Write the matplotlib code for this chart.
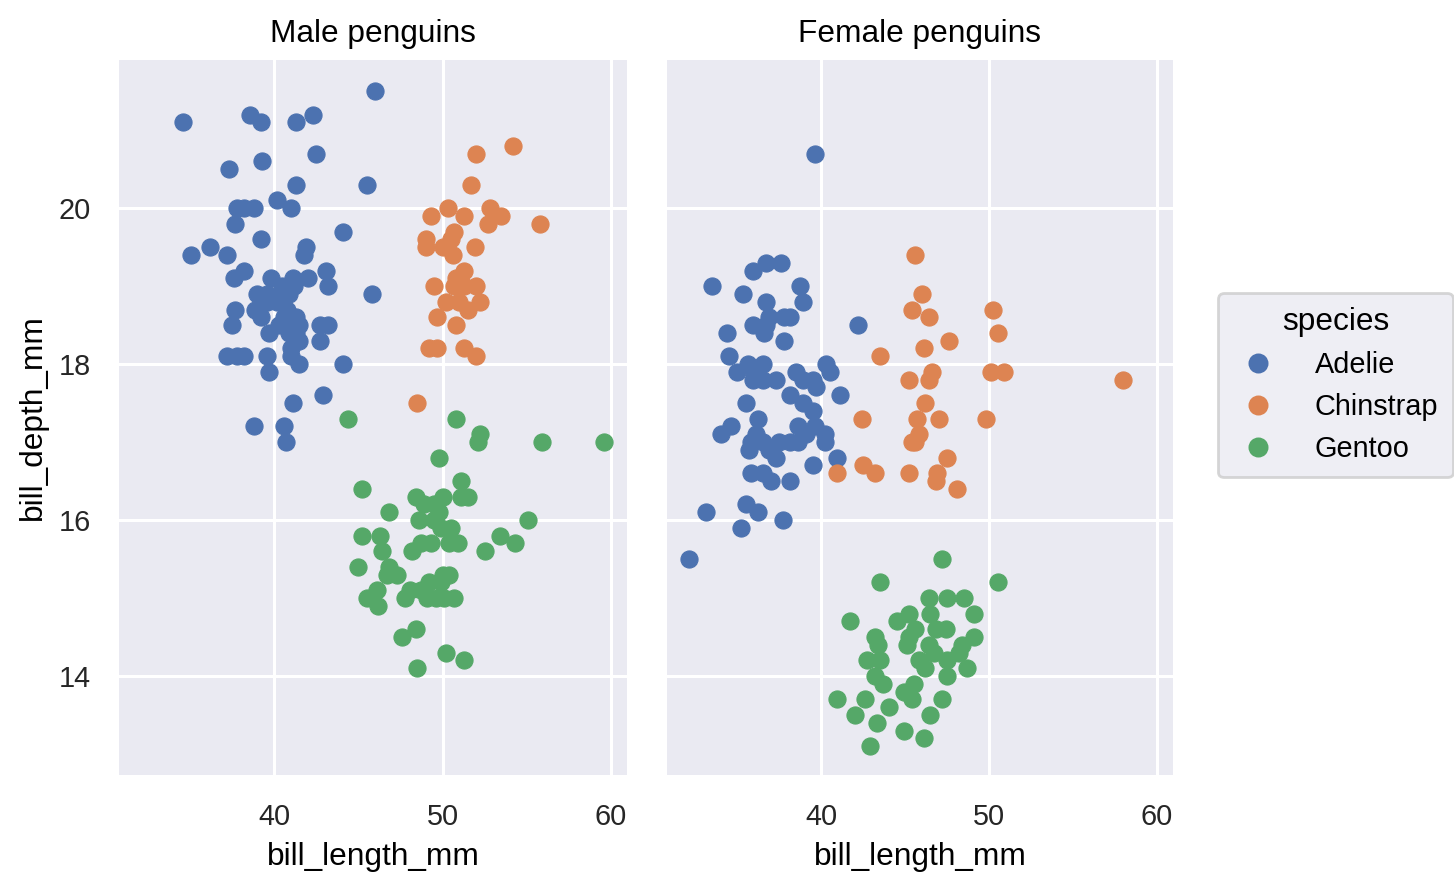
import matplotlib
matplotlib.use("Agg")
import matplotlib.pyplot as plt
from matplotlib.lines import Line2D

# ---------------- data (bill_length_mm, bill_depth_mm) ----------------
species = ["Adelie", "Chinstrap", "Gentoo"]
panel_titles = ["Male penguins", "Female penguins"]

male_adelie_len = [34.6, 38.6, 39.2, 41.3, 42.3, 46.0, 42.5, 39.3, 37.3, 41.3, 45.5, 40.2, 41.0, 37.8,
                   38.2, 38.8, 37.7, 39.2, 44.1, 36.2, 35.1, 37.2, 41.9, 41.8, 38.2, 43.1, 37.6, 39.8,
                   41.1, 42.0, 43.2, 45.8, 40.5, 39.6, 39.6, 40.4, 40.9, 40.2, 41.2, 37.7, 38.9, 39.2,
                   37.5, 39.7, 40.6, 41.3, 41.5, 41.0, 41.3, 41.5, 41.0, 41.0, 41.5, 42.7, 43.2, 42.7,
                   37.2, 37.8, 38.2, 39.6, 39.7, 44.1, 42.9, 41.1, 38.8, 40.6, 40.7, 40.8, 40.3, 39.5,
                   41.1, 40.9, 39.0]
male_adelie_dep = [21.1, 21.2, 21.1, 21.1, 21.2, 21.5, 20.7, 20.6, 20.5, 20.3, 20.3, 20.1, 20.0, 20.0,
                   20.0, 20.0, 19.8, 19.6, 19.7, 19.5, 19.4, 19.4, 19.5, 19.4, 19.2, 19.2, 19.1, 19.1,
                   19.1, 19.1, 19.0, 18.9, 19.0, 18.9, 18.8, 18.9, 18.9, 18.8, 19.0, 18.7, 18.7, 18.6,
                   18.5, 18.4, 18.6, 18.6, 18.5, 18.5, 18.4, 18.3, 18.2, 18.1, 18.0, 18.5, 18.5, 18.3,
                   18.1, 18.1, 18.1, 18.1, 17.9, 18.0, 17.6, 17.5, 17.2, 17.2, 17.0, 18.7, 18.5, 18.8,
                   18.6, 18.4, 18.9]

male_chinstrap_len = [54.2, 52.0, 51.7, 50.3, 49.3, 51.3, 52.8, 53.5, 52.7, 55.8, 50.7, 50.5, 49.0, 49.0,
                      50.0, 50.6, 51.9, 51.3, 50.8, 50.7, 51.3, 52.0, 49.5, 50.2, 51.0, 52.2, 51.5, 49.7,
                      50.8, 49.2, 49.7, 51.3, 52.0, 48.5]
male_chinstrap_dep = [20.8, 20.7, 20.3, 20.0, 19.9, 19.9, 20.0, 19.9, 19.8, 19.8, 19.7, 19.6, 19.6, 19.5,
                      19.5, 19.4, 19.5, 19.2, 19.1, 19.0, 19.0, 19.0, 19.0, 18.8, 18.8, 18.8, 18.7, 18.6,
                      18.5, 18.2, 18.2, 18.2, 18.1, 17.5]

male_gentoo_len = [44.4, 50.8, 52.2, 52.1, 55.9, 59.6, 49.8, 51.1, 51.1, 51.5, 45.2, 48.4, 50.0, 46.8,
                   48.9, 49.5, 49.8, 48.6, 49.5, 50.5, 49.9, 55.1, 53.4, 54.3, 45.2, 46.3, 46.4, 48.7,
                   49.3, 48.2, 50.4, 50.9, 52.5, 45.0, 46.8, 46.7, 47.3, 46.1, 45.5, 46.2, 47.8, 48.1,
                   49.2, 50.0, 50.4, 49.9, 49.1, 49.6, 50.1, 50.7, 48.7, 48.4, 47.6, 50.2, 51.3, 48.5]
male_gentoo_dep = [17.3, 17.3, 17.1, 17.0, 17.0, 17.0, 16.8, 16.5, 16.3, 16.3, 16.4, 16.3, 16.3, 16.1,
                   16.2, 16.2, 16.1, 16.0, 16.0, 15.9, 15.9, 16.0, 15.8, 15.7, 15.8, 15.8, 15.6, 15.7,
                   15.7, 15.6, 15.7, 15.7, 15.6, 15.4, 15.4, 15.3, 15.3, 15.1, 15.0, 14.9, 15.0, 15.1,
                   15.2, 15.3, 15.3, 15.2, 15.0, 15.0, 15.0, 15.0, 15.1, 14.6, 14.5, 14.3, 14.2, 14.1]

female_adelie_len = [39.6, 36.7, 37.6, 35.9, 33.5, 35.3, 38.7, 38.9, 36.7, 36.9, 37.8, 38.1, 35.9, 36.7,
                     36.6, 34.4, 37.8, 42.2, 34.5, 35.6, 36.5, 35.0, 35.9, 36.5, 37.3, 36.0, 38.5, 40.3,
                     40.5, 39.5, 39.7, 38.9, 38.1, 38.9, 41.1, 35.5, 39.5, 36.2, 34.6, 34.0, 38.6, 39.6,
                     40.2, 40.2, 36.1, 35.8, 35.7, 36.5, 37.5, 38.1, 38.6, 36.9, 37.3, 39.1, 40.9, 39.5,
                     35.8, 36.5, 37.0, 38.1, 33.1, 35.5, 36.2, 35.2, 37.7, 32.1]
female_adelie_dep = [20.7, 19.3, 19.3, 19.2, 19.0, 18.9, 19.0, 18.8, 18.8, 18.6, 18.6, 18.6, 18.5, 18.5,
                     18.4, 18.4, 18.3, 18.5, 18.1, 18.0, 18.0, 17.9, 17.8, 17.8, 17.8, 17.9, 17.9, 18.0,
                     17.9, 17.8, 17.7, 17.8, 17.6, 17.5, 17.6, 17.5, 17.4, 17.3, 17.2, 17.1, 17.2, 17.2,
                     17.1, 17.0, 17.1, 17.0, 16.9, 17.0, 17.0, 17.0, 17.0, 16.9, 16.8, 17.1, 16.8, 16.7,
                     16.6, 16.6, 16.5, 16.5, 16.1, 16.2, 16.1, 15.9, 16.0, 15.5]

female_chinstrap_len = [42.4, 42.5, 40.9, 45.6, 46.0, 45.4, 46.4, 50.2, 50.5, 47.6, 46.1, 43.5, 46.6, 46.4,
                        45.2, 50.1, 50.9, 46.2, 45.7, 47.0, 49.8, 45.8, 45.6, 45.4, 47.5, 43.2, 45.2, 46.9,
                        46.8, 48.1, 58.0]
female_chinstrap_dep = [17.3, 16.7, 16.6, 19.4, 18.9, 18.7, 18.6, 18.7, 18.4, 18.3, 18.2, 18.1, 17.9, 17.8,
                        17.8, 17.9, 17.9, 17.5, 17.3, 17.3, 17.3, 17.1, 17.0, 17.0, 16.8, 16.6, 16.6, 16.6,
                        16.5, 16.4, 17.8]

female_gentoo_len = [47.2, 43.5, 50.5, 46.4, 47.5, 48.5, 49.1, 45.2, 46.5, 41.7, 44.5, 45.6, 45.2, 45.1,
                     46.8, 47.4, 49.1, 48.4, 48.2, 43.2, 43.4, 46.4, 46.7, 45.8, 46.2, 47.5, 47.5, 48.7,
                     42.7, 43.5, 43.2, 43.7, 45.5, 44.9, 45.4, 40.9, 42.6, 44.0, 47.2, 42.0, 46.5, 43.3,
                     44.9, 46.1, 42.9]
female_gentoo_dep = [15.5, 15.2, 15.2, 15.0, 15.0, 15.0, 14.8, 14.8, 14.8, 14.7, 14.7, 14.6, 14.5, 14.4,
                     14.6, 14.6, 14.5, 14.4, 14.3, 14.5, 14.4, 14.4, 14.3, 14.2, 14.1, 14.2, 14.0, 14.1,
                     14.2, 14.2, 14.0, 13.9, 13.9, 13.8, 13.7, 13.7, 13.7, 13.6, 13.7, 13.5, 13.5, 13.4,
                     13.3, 13.2, 13.1]

x_ticks = [40, 50, 60]
y_ticks = [14, 16, 18, 20]

panels = [
    [(male_adelie_len, male_adelie_dep), (male_chinstrap_len, male_chinstrap_dep), (male_gentoo_len, male_gentoo_dep)],
    [(female_adelie_len, female_adelie_dep), (female_chinstrap_len, female_chinstrap_dep), (female_gentoo_len, female_gentoo_dep)],
]

colors = ["#4C72B0", "#DD8452", "#55A868"]

# ---------------- styling ----------------
FONT = ["Liberation Sans", "DejaVu Sans"]
plt.rcParams["font.family"] = FONT
plt.rcParams["text.color"] = "black"
plt.rcParams["axes.labelcolor"] = "black"
plt.rcParams["xtick.color"] = "#262626"
plt.rcParams["ytick.color"] = "#262626"

W, H = 1454, 890
fig = plt.figure(figsize=(W / 200, H / 200), dpi=200)

ax_rects = [
    (119 / W, 1 - 775 / H, 508 / W, 715 / H),
    (667 / W, 1 - 775 / H, 506 / W, 715 / H),
]

axes = []
for i, rect in enumerate(ax_rects):
    ax = fig.add_axes(rect, sharex=axes[0] if axes else None, sharey=axes[0] if axes else None)
    axes.append(ax)
    ax.set_facecolor("#EAEAF2")
    for s in ax.spines.values():
        s.set_visible(False)
    ax.grid(True, color="white", linewidth=1.1)
    ax.set_axisbelow(True)
    ax.tick_params(length=0, labelsize=10.4, pad=10)
    for (xs, ys), c in zip(panels[i], colors):
        ax.scatter(xs, ys, s=38, color=c, edgecolors=c, linewidths=0.4, zorder=3)
    ax.set_title(panel_titles[i], fontsize=11.4, pad=6.5)
    ax.set_xlabel("bill_length_mm", fontsize=11.4, labelpad=4)

axes[0].set_ylabel("bill_depth_mm", fontsize=11.4, labelpad=4)
axes[0].set_xticks(x_ticks)
axes[0].set_yticks(y_ticks)
axes[0].set_xlim(30.8, 60.95)
axes[0].set_ylim(12.73, 21.90)
plt.setp(axes[1].get_yticklabels(), visible=False)

handles = [Line2D([], [], marker="o", linestyle="", markersize=6.2, color=c,
                  markeredgecolor=c) for c in colors]
leg = fig.legend(handles, species, title="species", loc="upper left",
                 bbox_to_anchor=(1218 / W, 1 - 293 / H), borderaxespad=0,
                 fontsize=10.4, title_fontsize=11.4, frameon=True,
                 handletextpad=1.05, borderpad=0.5, labelspacing=0.48,
                 handlelength=1.8)
leg.get_frame().set_facecolor("#EAEAF2")
leg.get_frame().set_edgecolor("#CCCCCC")
leg.get_frame().set_alpha(0.8)

fig.savefig("out.png", dpi=200)
